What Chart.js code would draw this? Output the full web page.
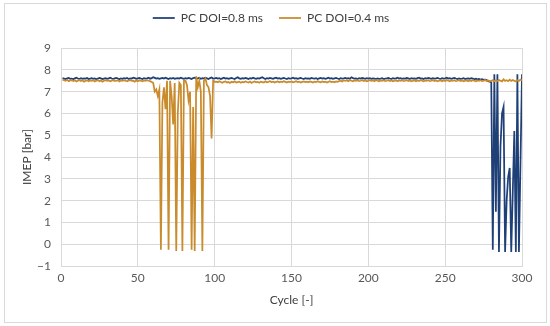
<!DOCTYPE html>
<html>
<head>
<meta charset="utf-8">
<script src="https://cdn.jsdelivr.net/npm/chart.js@4.4.0/dist/chart.umd.min.js"></script>
<style>
  body { margin: 0; background: #fff; }
  #wrap { position: relative; width: 550px; height: 326px; }
  #frame { position: absolute; left: 4px; top: 3px; width: 541px; height: 318px; border: 1px solid #d9d9d9; pointer-events: none; }
</style>
</head>
<body>
<div id="wrap">
  <canvas id="chart" width="550" height="326"></canvas>
  <div id="frame"></div>
</div>
<script>
// cycle numbers 1..300
var cycles = [];
for (var i = 1; i <= 300; i++) cycles.push(i);

var seriesNames = ['PC DOI=0.8 ms', 'PC DOI=0.4 ms'];
var xTicks = [0, 50, 100, 150, 200, 250, 300];
var yTicks = [-1, 0, 1, 2, 3, 4, 5, 6, 7, 8, 9];

// IMEP [bar], PC DOI=0.8 ms
var imep08 = [
  7.62, 7.60, 7.58, 7.61, 7.63, 7.59, 7.60, 7.57, 7.61, 7.64, 7.60, 7.58, 7.62, 7.59, 7.61, 7.60, 7.63, 7.58, 7.60, 7.62,
  7.59, 7.61, 7.57, 7.60, 7.63, 7.61, 7.58, 7.60, 7.62, 7.59, 7.61, 7.64, 7.60, 7.58, 7.61, 7.63, 7.60, 7.57, 7.61, 7.59,
  7.62, 7.60, 7.63, 7.58, 7.61, 7.60, 7.64, 7.62, 7.59, 7.61, 7.63, 7.60, 7.58, 7.62, 7.60, 7.61, 7.64, 7.59, 7.62, 7.66,
  7.63, 7.60, 7.62, 7.59, 7.61, 7.63, 7.60, 7.64, 7.61, 7.58, 7.62, 7.60, 7.63, 7.59, 7.61, 7.62, 7.60, 7.64, 7.61, 7.59,
  7.62, 7.60, 7.63, 7.61, 7.58, 7.62, 7.64, 7.60, 7.61, 7.63, 7.59, 7.62, 7.60, 7.64, 7.61, 7.58, 7.62, 7.65, 7.60, 7.61,
  7.63, 7.60, 7.62, 7.58, 7.61, 7.64, 7.60, 7.62, 7.59, 7.61, 7.63, 7.60, 7.58, 7.62, 7.66, 7.61, 7.59, 7.62, 7.60, 7.63,
  7.61, 7.58, 7.62, 7.60, 7.64, 7.61, 7.59, 7.62, 7.60, 7.63, 7.66, 7.61, 7.58, 7.62, 7.60, 7.63, 7.61, 7.59, 7.62, 7.64,
  7.60, 7.62, 7.59, 7.61, 7.63, 7.60, 7.58, 7.62, 7.60, 7.61, 7.64, 7.60, 7.62, 7.59, 7.61, 7.63, 7.60, 7.58, 7.62, 7.60,
  7.61, 7.59, 7.63, 7.61, 7.60, 7.62, 7.58, 7.61, 7.63, 7.60, 7.62, 7.59, 7.61, 7.64, 7.60, 7.62, 7.59, 7.61, 7.63, 7.60,
  7.58, 7.62, 7.60, 7.61, 7.63, 7.60, 7.62, 7.59, 7.66, 7.62, 7.60, 7.61, 7.58, 7.62, 7.60, 7.63, 7.61, 7.59, 7.62, 7.60,
  7.62, 7.59, 7.61, 7.60, 7.58, 7.61, 7.59, 7.60, 7.62, 7.57, 7.60, 7.61, 7.63, 7.60, 7.58, 7.62, 7.60, 7.61, 7.64, 7.60,
  7.62, 7.59, 7.61, 7.60, 7.63, 7.61, 7.58, 7.62, 7.60, 7.61, 7.59, 7.62, 7.64, 7.60, 7.61, 7.58, 7.62, 7.60, 7.63, 7.61,
  7.59, 7.62, 7.60, 7.61, 7.63, 7.60, 7.58, 7.62, 7.60, 7.61, 7.64, 7.60, 7.62, 7.59, 7.61, 7.63, 7.60, 7.58, 7.61, 7.59,
  7.60, 7.62, 7.58, 7.60, 7.61, 7.59, 7.62, 7.60, 7.57, 7.59, 7.56, 7.58, 7.55, 7.57, 7.54, 7.55, 7.53, 7.48, 7.46, 7.42,
  -0.25, 7.80, 1.50, 7.80, -0.35, 4.50, 6.00, 6.30, -0.35, 2.00, 3.10, 3.50, -0.35, 2.40, 5.20, -0.35, 7.80, -0.35, 3.70, 7.80
];

// IMEP [bar], PC DOI=0.4 ms
var imep04 = [
  7.55, 7.52, 7.50, 7.54, 7.48, 7.51, 7.53, 7.49, 7.52, 7.47, 7.50, 7.53, 7.49, 7.51, 7.46, 7.50, 7.52, 7.48, 7.51, 7.49,
  7.52, 7.47, 7.50, 7.53, 7.48, 7.51, 7.46, 7.50, 7.52, 7.49, 7.51, 7.47, 7.50, 7.53, 7.48, 7.50, 7.52, 7.47, 7.51, 7.49,
  7.52, 7.50, 7.47, 7.51, 7.53, 7.49, 7.50, 7.46, 7.51, 7.48, 7.52, 7.50, 7.47, 7.51, 7.49, 7.52, 7.50, 7.48, 7.44, 7.40,
  7.00, 7.10, 6.80, 7.10, -0.25, 6.50, 7.20, 6.20, 7.50, -0.25, 7.50, 6.80, 5.50, 7.40, -0.30, 6.00, 7.40, 7.30, -0.30, 7.50,
  7.50, 7.30, 6.60, 7.00, -0.25, 6.30, -0.30, 7.70, 7.20, 7.50, 7.00, -0.30, 7.50, 7.60, 7.30, 7.20, 6.80, 4.85, 7.50, 7.45,
  7.46, 7.43, 7.48, 7.44, 7.41, 7.45, 7.47, 7.42, 7.44, 7.40, 7.45, 7.43, 7.47, 7.42, 7.44, 7.46, 7.41, 7.45, 7.43, 7.47,
  7.44, 7.42, 7.46, 7.40, 7.44, 7.47, 7.43, 7.45, 7.41, 7.46, 7.44, 7.42, 7.47, 7.43, 7.45, 7.48, 7.44, 7.46, 7.42, 7.45,
  7.47, 7.43, 7.46, 7.44, 7.48, 7.45, 7.42, 7.46, 7.44, 7.47, 7.43, 7.45, 7.48, 7.44, 7.46, 7.42, 7.45, 7.47, 7.44, 7.46,
  7.43, 7.47, 7.45, 7.42, 7.46, 7.44, 7.48, 7.45, 7.43, 7.47, 7.44, 7.46, 7.42, 7.45, 7.48, 7.44, 7.46, 7.43, 7.47, 7.45,
  7.48, 7.50, 7.47, 7.52, 7.49, 7.51, 7.48, 7.53, 7.50, 7.47, 7.51, 7.49, 7.52, 7.48, 7.50, 7.53, 7.49, 7.51, 7.47, 7.50,
  7.52, 7.49, 7.51, 7.48, 7.53, 7.50, 7.47, 7.51, 7.49, 7.52, 7.48, 7.50, 7.53, 7.49, 7.51, 7.47, 7.50, 7.52, 7.48, 7.51,
  7.49, 7.52, 7.48, 7.50, 7.53, 7.49, 7.51, 7.47, 7.50, 7.52, 7.48, 7.51, 7.49, 7.53, 7.50, 7.47, 7.51, 7.49, 7.52, 7.48,
  7.50, 7.53, 7.49, 7.51, 7.47, 7.50, 7.52, 7.48, 7.51, 7.49, 7.53, 7.50, 7.47, 7.51, 7.49, 7.52, 7.48, 7.50, 7.53, 7.49,
  7.51, 7.47, 7.50, 7.52, 7.48, 7.51, 7.49, 7.53, 7.50, 7.47, 7.51, 7.49, 7.52, 7.48, 7.50, 7.53, 7.49, 7.51, 7.47, 7.50,
  7.52, 7.48, 7.51, 7.49, 7.53, 7.50, 7.47, 7.56, 7.49, 7.52, 7.48, 7.55, 7.49, 7.53, 7.50, 7.47, 7.52, 7.49, 7.55, 7.51
];

var textColor = '#595959';
var legendColor = '#404040';
var gridColor = '#d9d9d9';
var font = { family: 'Lato', size: 12 };

// push the plot area down a bit below the legend
var legendGap = {
  id: 'legendGap',
  beforeInit: function (chart) {
    var origFit = chart.legend.fit;
    chart.legend.fit = function () {
      origFit.bind(chart.legend)();
      this.height += 14;
    };
  }
};

var ctx = document.getElementById('chart');
var myChart = new Chart(ctx, {
  type: 'line',
  data: {
    labels: cycles,
    datasets: [{
      label: seriesNames[0],
      data: imep08,
      borderColor: '#1f3f77',
      backgroundColor: '#1f3f77',
      borderWidth: 1.75,
      pointRadius: 0,
      tension: 0,
      order: 1
    }, {
      label: seriesNames[1],
      data: imep04,
      borderColor: '#c98b2c',
      backgroundColor: '#c98b2c',
      borderWidth: 1.75,
      pointRadius: 0,
      tension: 0,
      order: 0
    }]
  },
  plugins: [legendGap],
  options: {
    responsive: false,
    devicePixelRatio: 1,
    animation: false,
    layout: { padding: { left: 20, right: 28, top: -4, bottom: 19 } },
    plugins: {
      tooltip: { enabled: false },
      legend: {
        position: 'top',
        labels: {
          usePointStyle: true,
          pointStyle: 'line',
          pointStyleWidth: 22,
          color: legendColor,
          font: { family: 'Lato', size: 12 },
          padding: 16,
          sort: function (a, b) { return a.datasetIndex - b.datasetIndex; }
        }
      }
    },
    scales: {
      x: {
        type: 'linear',
        min: 0,
        max: 300,
        afterBuildTicks: function (scale) {
          scale.ticks = xTicks.map(function (v) { return { value: v }; });
        },
        grid: { color: gridColor, drawTicks: false },
        border: { color: gridColor },
        ticks: { color: textColor, font: font, padding: 5, maxRotation: 0 },
        title: { display: true, text: 'Cycle [-]', color: legendColor, font: font, padding: { top: 2, bottom: 0 } }
      },
      y: {
        min: -1,
        max: 9,
        afterBuildTicks: function (scale) {
          scale.ticks = yTicks.map(function (v) { return { value: v }; });
        },
        afterFit: function (scale) { scale.width = 41; },
        grid: { color: gridColor, drawTicks: false },
        border: { color: gridColor },
        ticks: {
          color: textColor,
          font: font,
          padding: 10,
          callback: function (v) { return v < 0 ? '\u2212' + Math.abs(v) : String(v); }
        },
        title: { display: true, text: 'IMEP [bar]', color: legendColor, font: font, padding: 0 }
      }
    }
  }
});
</script>
</body>
</html>
